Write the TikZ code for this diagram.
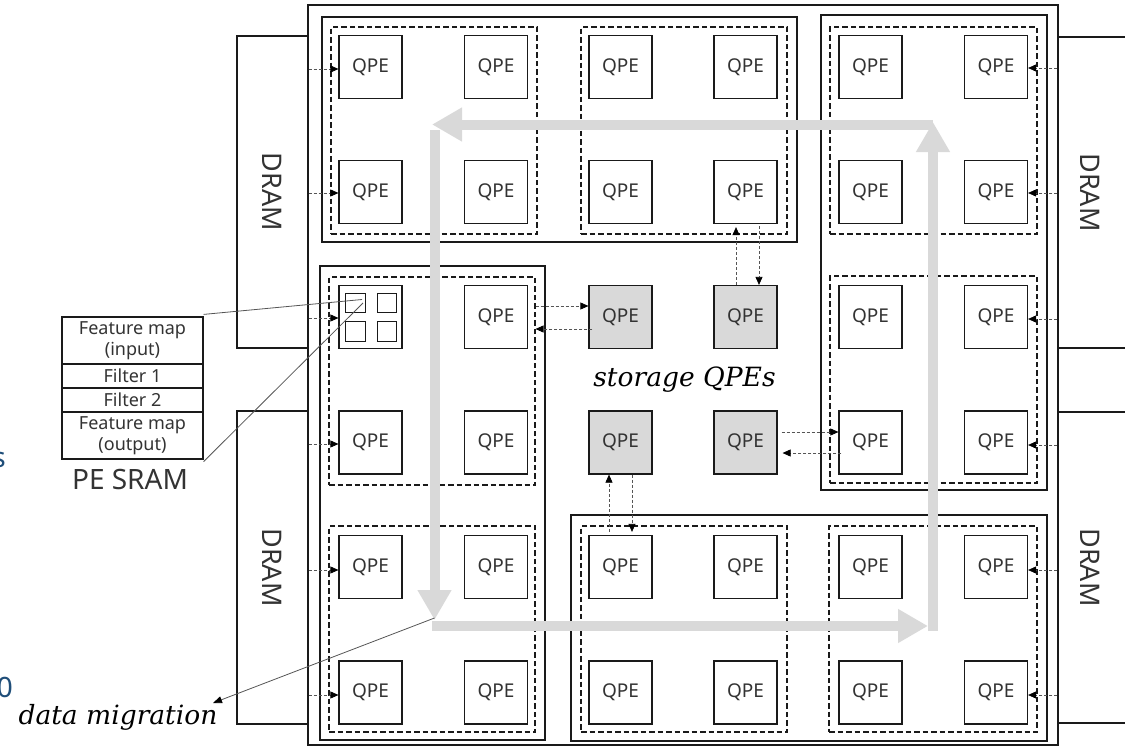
\documentclass[tikz,border=0pt]{standalone}
\usepackage{fontspec}
\setmainfont{Noto Sans}
\newfontfamily\serifit{DejaVu Serif}
\usetikzlibrary{arrows.meta}
\definecolor{boxline}{HTML}{1A1A1A}
\definecolor{txt}{HTML}{333333}
\definecolor{stor}{HTML}{D9D9D9}
\definecolor{flow}{HTML}{D9D9D9}
\definecolor{dline}{HTML}{555555}
\definecolor{bluetxt}{HTML}{1F4E79}
\begin{document}
\begin{tikzpicture}[x=1pt,y=-1pt,
  frame/.style={draw=boxline,line width=1.2pt,inner sep=0pt},
  dbox/.style={draw=boxline,line width=1.1pt,dash pattern=on 5.5pt off 3pt,inner sep=0pt},
  qpe/.style={draw=boxline,line width=1.2pt,minimum size=63pt,inner sep=0pt,text=txt,font=\fontsize{19}{21}\selectfont},
  sqpe/.style={qpe,fill=stor},
  cell/.style={draw=boxline,line width=1.2pt,minimum size=19.5pt,inner sep=0pt},
  dramtext/.style={rotate=-90,text=txt,inner sep=0pt,font=\fontsize{27}{30}\selectfont},
  darrow/.style={draw=dline,line width=0.7pt,dash pattern=on 3pt off 2pt,-{Triangle[length=8pt,width=7pt,color=black]}},
  flowarrow/.style={draw=flow,line width=10pt,-{Triangle[length=30pt,width=32pt]}},
  pointer/.style={draw=dline,line width=0.8pt},
  pointerarrow/.style={pointer,-{Triangle[length=9pt,width=7pt,color=black]}},
  sram/.style={draw=boxline,line width=1.2pt,minimum width=141pt,inner sep=0pt,align=center,text=txt,font=\fontsize{18}{21.5}\selectfont},
  label italic/.style={inner sep=0pt,font=\serifit\itshape\fontsize{26.5}{28}\selectfont},
  partial/.style={anchor=east,inner sep=0pt,text=bluetxt,font=\fontsize{28}{30}\selectfont}
]
\useasboundingbox (0,0) rectangle (1125,755);

% outer chip and DRAMs
\node[frame,minimum width=750pt,minimum height=740pt] (outer) at (683,375) {};
\node[frame,minimum width=71pt,minimum height=312pt] (dramLT) at (272.5,192) {};
\node[frame,minimum width=71pt,minimum height=313pt] (dramLB) at (272.5,567.5) {};
\node[frame,minimum width=90pt,minimum height=311pt] (dramRT) at (1103,192.5) {};
\node[frame,minimum width=90pt,minimum height=311pt] (dramRB) at (1103,567.5) {};
\node[dramtext] (tLT) at (272.5,192) {DRAM};
\node[dramtext] (tLB) at (272.5,567.5) {DRAM};
\node[dramtext] (tRT) at (1090,192.5) {DRAM};
\node[dramtext] (tRB) at (1090,567.5) {DRAM};

% clusters
\node[frame,minimum width=475pt,minimum height=225pt] (ctop) at (559.5,129.5) {};
\node[frame,minimum width=226pt,minimum height=475pt] (cright) at (934,252.5) {};
\node[frame,minimum width=225pt,minimum height=474pt] (cleft) at (432.5,503) {};
\node[frame,minimum width=476pt,minimum height=226pt] (cbot) at (809,628) {};

\node[dbox,minimum width=206pt,minimum height=207pt] (tA) at (434,130.5) {};
\node[dbox,minimum width=206pt,minimum height=207pt] (tB) at (684,130.5) {};
\node[dbox,minimum width=207pt,minimum height=207pt] (rA) at (933.5,130.5) {};
\node[dbox,minimum width=207pt,minimum height=207pt] (rB) at (933.5,379.5) {};
\node[dbox,minimum width=206pt,minimum height=208pt] (lA) at (432,381) {};
\node[dbox,minimum width=206pt,minimum height=206pt] (lB) at (432,629) {};
\node[dbox,minimum width=206pt,minimum height=206pt] (bA) at (684,629) {};
\node[dbox,minimum width=208pt,minimum height=206pt] (bB) at (933,629) {};

% QPEs: top cluster
\node[qpe] (q11) at (370.5,67) {QPE};
\node[qpe] (q21) at (496,67) {QPE};
\node[qpe] (q31) at (620.5,67) {QPE};
\node[qpe] (q41) at (745.5,67) {QPE};
\node[qpe] (q12) at (370.5,192) {QPE};
\node[qpe] (q22) at (496,192) {QPE};
\node[qpe] (q32) at (620.5,192) {QPE};
\node[qpe] (q42) at (745.5,192) {QPE};
% right cluster
\node[qpe] (q51) at (870.5,67) {QPE};
\node[qpe] (q61) at (996,67) {QPE};
\node[qpe] (q52) at (870.5,192) {QPE};
\node[qpe] (q62) at (996,192) {QPE};
\node[qpe] (q53) at (870.5,317) {QPE};
\node[qpe] (q63) at (996,317) {QPE};
\node[qpe] (q54) at (870.5,442.5) {QPE};
\node[qpe] (q64) at (996,442.5) {QPE};
% left cluster
\node[qpe] (pe) at (370.5,317) {};
\node[cell] (pe1) at (355.5,303) {};
\node[cell] (pe2) at (387,303) {};
\node[cell] (pe3) at (355.5,331.5) {};
\node[cell] (pe4) at (387,331.5) {};
\node[qpe] (q23) at (496,317) {QPE};
\node[qpe] (q14) at (370.5,442.5) {QPE};
\node[qpe] (q24) at (496,442.5) {QPE};
\node[qpe] (q15) at (370.5,567) {QPE};
\node[qpe] (q25) at (496,567) {QPE};
\node[qpe] (q16) at (370.5,692.5) {QPE};
\node[qpe] (q26) at (496,692.5) {QPE};
% bottom cluster
\node[qpe] (q35) at (620.5,567) {QPE};
\node[qpe] (q45) at (745.5,567) {QPE};
\node[qpe] (q55) at (870.5,567) {QPE};
\node[qpe] (q65) at (996,567) {QPE};
\node[qpe] (q36) at (620.5,692.5) {QPE};
\node[qpe] (q46) at (745.5,692.5) {QPE};
\node[qpe] (q56) at (870.5,692.5) {QPE};
\node[qpe] (q66) at (996,692.5) {QPE};
% storage QPEs
\node[sqpe] (s33) at (620.5,317) {QPE};
\node[sqpe] (s43) at (745.5,317) {QPE};
\node[sqpe] (s34) at (620.5,442.5) {QPE};
\node[sqpe] (s44) at (745.5,442.5) {QPE};
\node[label italic] (stlabel) at (684.5,380) {storage QPEs};

% DRAM feeds
\draw[darrow] ([yshift=-2pt]dramLT.east |- q11.west) -- ([yshift=-2pt]q11.west);
\draw[darrow] ([yshift=-1pt]dramLT.east |- q12.west) -- ([yshift=-1pt]q12.west);
\draw[darrow] ([yshift=-1pt]dramLT.east |- pe.west) -- ([yshift=-1pt]pe.west);
\draw[darrow] ([yshift=-1.5pt]dramLB.east |- q14.west) -- ([yshift=-1.5pt]q14.west);
\draw[darrow] ([yshift=-3pt]dramLB.east |- q15.west) -- ([yshift=-3pt]q15.west);
\draw[darrow] ([yshift=-2.5pt]dramLB.east |- q16.west) -- ([yshift=-2.5pt]q16.west);
\draw[darrow] ([yshift=-1pt]dramRT.west |- q61.east) -- ([yshift=-1pt]q61.east);
\draw[darrow] ([yshift=-1pt]dramRT.west |- q62.east) -- ([yshift=-1pt]q62.east);
\draw[darrow] ([yshift=-2pt]dramRT.west |- q63.east) -- ([yshift=-2pt]q63.east);
\draw[darrow] ([yshift=-2.5pt]dramRB.west |- q64.east) -- ([yshift=-2.5pt]q64.east);
\draw[darrow] ([yshift=-3pt]dramRB.west |- q65.east) -- ([yshift=-3pt]q65.east);
\draw[darrow] ([yshift=-2.5pt]dramRB.west |- q66.east) -- ([yshift=-2.5pt]q66.east);

% storage exchanges
\draw[darrow] ([yshift=11pt]s33.west -| lA.east) -- ([yshift=11pt]s33.west);
\draw[darrow] ([yshift=-12pt,xshift=4pt]s33.west) -- ([yshift=-12pt]s33.west -| lA.east);
\draw[darrow] ([xshift=-9.5pt]s43.north) -- ([xshift=-9.5pt,yshift=-3pt]q42.south);
\draw[darrow] ([xshift=13.5pt,yshift=-2pt]q42.south) -- ([xshift=13.5pt]s43.north);
\draw[darrow] ([yshift=10.5pt,xshift=4pt]s44.east) -- ([yshift=10.5pt]q54.west);
\draw[darrow] ([yshift=-10.5pt,xshift=3pt]q54.west) -- ([yshift=-10.5pt,xshift=5pt]s44.east);
\draw[darrow] ([xshift=-11.5pt,yshift=3pt]q35.north) -- ([xshift=-11.5pt]s34.south);
\draw[darrow] ([xshift=11.5pt]s34.south) -- ([xshift=11.5pt,yshift=3pt]q35.north);

% data migration loop
\coordinate (fTR) at (933,124.5);
\coordinate (fTL) at (432,124.5);
\coordinate (fLT) at (434.5,130);
\coordinate (fLB) at (434.5,620);
\coordinate (fBL) at (432,626);
\coordinate (fBR) at (928,626);
\coordinate (fRB) at (933,631);
\coordinate (fRT) at (933,122);
\draw[flowarrow] (fTR) -- (fTL);
\draw[flowarrow] (fLT) -- (fLB);
\draw[flowarrow] (fBL) -- (fBR);
\draw[flowarrow] (fRB) -- (fRT);

% PE SRAM
\node[sram,minimum height=47pt] (sramA) at (132.5,340.5) {Feature map\\(input)};
\node[sram,minimum height=24pt] (sramB) at (132.5,376) {Filter 1};
\node[sram,minimum height=24pt] (sramC) at (132.5,400) {Filter 2};
\node[sram,minimum height=47pt] (sramD) at (132.5,435.5) {Feature map\\(output)};
\node[inner sep=0pt,text=txt,font=\fontsize{28}{30}\selectfont] (sramlabel) at (130,479) {PE SRAM};
\coordinate (peA) at (362,299.5);
\coordinate (peB) at (363,303);
\draw[pointer] ([yshift=2pt]sramA.north east) -- (peA);
\draw[pointer] ([yshift=-2pt]sramD.south east) -- (peB);

% data migration label
\node[label italic] (dm) at (118,717) {data migration};
\coordinate (dmtip) at (213,703);
\draw[pointerarrow] ([yshift=2pt]fLB) -- (dmtip);

% cropped fragments at the left edge
\node[partial] (fragS) at (6,460) {s};
\node[partial] (fragO) at (13,687.5) {0};
\end{tikzpicture}
\end{document}
